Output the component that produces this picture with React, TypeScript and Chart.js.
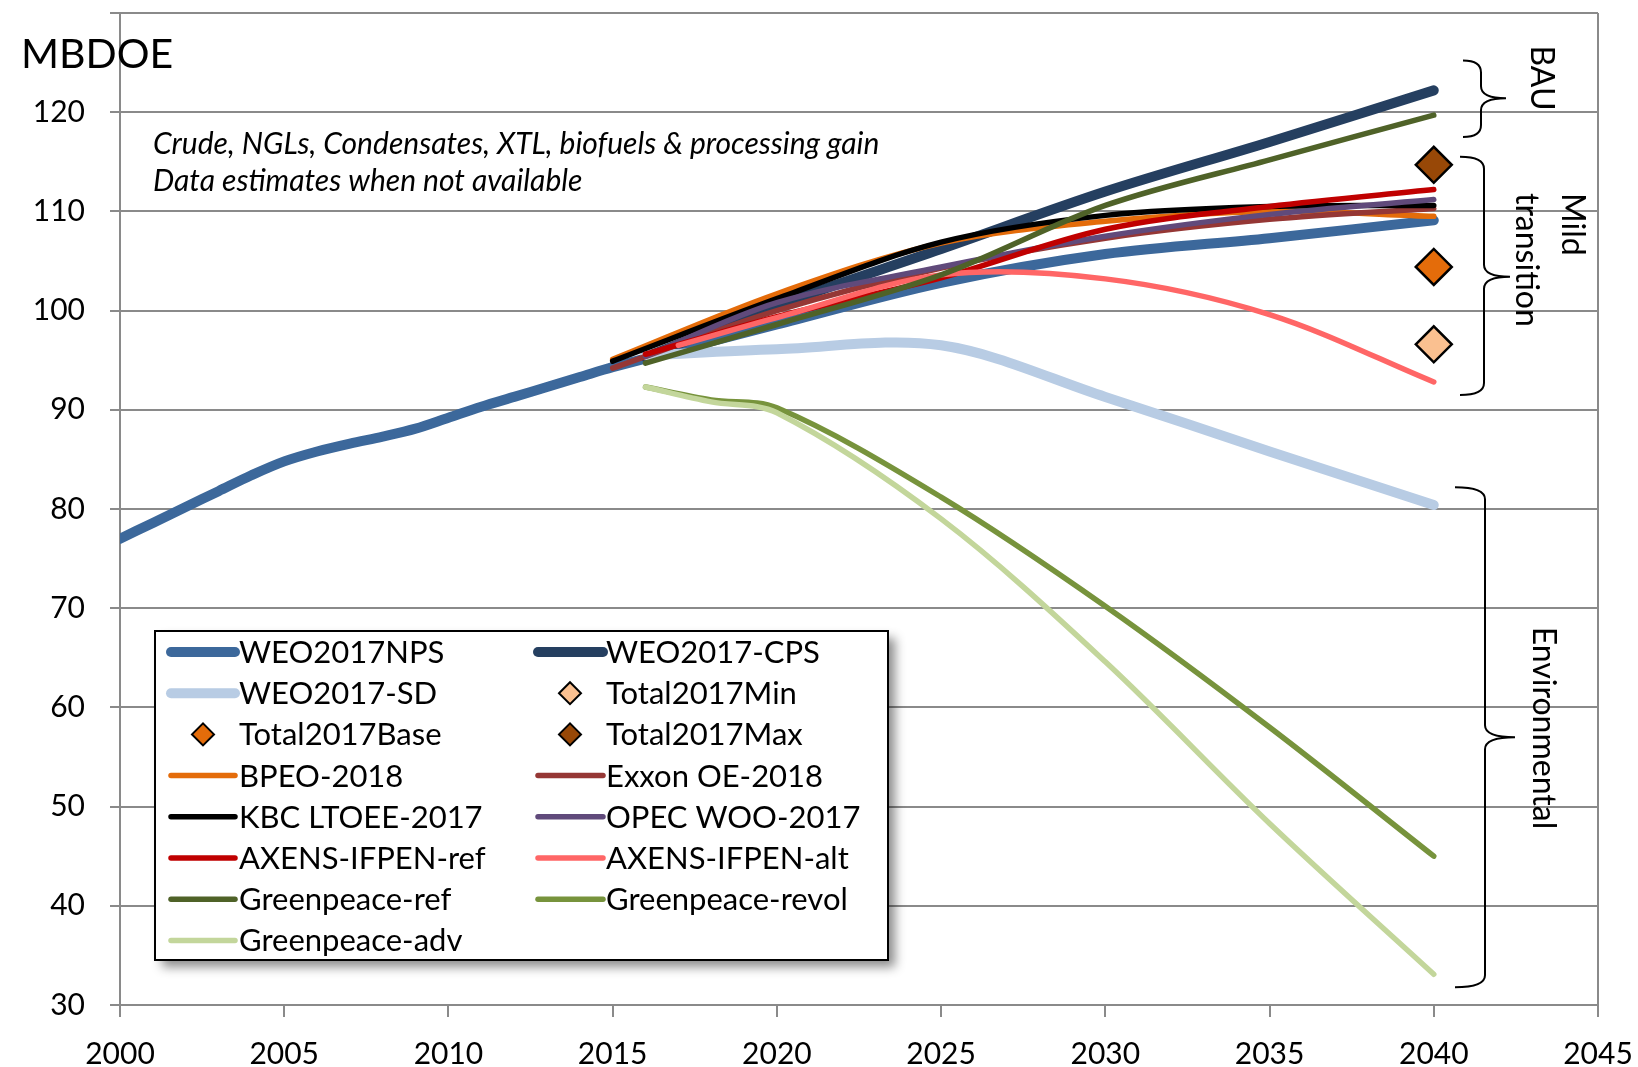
import React, { useEffect, useRef } from 'react';
import { Chart, registerables } from 'chart.js';

Chart.register(...registerables);

const FONT = 'Lato, "Open Sans", "DejaVu Sans", sans-serif';
const GRID = '#8A8A8A';

// ---- axes ----
const X_MIN = 2000;
const X_MAX = 2045;
const X_STEP = 5;
const Y_MIN = 30;
const Y_MAX = 130;
const Y_STEP = 10;
const UNIT_LABEL = 'MBDOE';
const NOTE_LINES = [
  'Crude, NGLs, Condensates, XTL, biofuels & processing gain',
  'Data estimates when not available',
];

// ---- data (MBDOE) ----
const historyYears = [2000, 2001, 2002, 2003, 2004, 2005, 2006, 2007, 2008, 2009, 2010, 2011, 2012, 2013, 2014, 2015];
const npsHistory = [77.0, 78.6, 80.2, 81.8, 83.4, 84.8, 85.8, 86.6, 87.3, 88.1, 89.2, 90.3, 91.3, 92.3, 93.3, 94.3];
const outlookYears = [2020, 2025, 2030, 2035, 2040];
const npsOutlook = [98.6, 102.8, 105.7, 107.3, 109.1];

const years2015 = [2015, 2020, 2025, 2030, 2035, 2040];
const years2016 = [2016, 2020, 2025, 2030, 2035, 2040];
const years2017 = [2017, 2020, 2025, 2030, 2035, 2040];
const greenpeaceYears = [2016, 2018, 2020, 2025, 2030, 2035, 2040];
const totalYears = [2040];

const weoCps = [95.3, 100.5, 106.2, 112.0, 117.0, 122.2];
const weoSd = [95.5, 96.1, 96.5, 91.3, 85.8, 80.4];
const totalMin = [96.6];
const totalBase = [104.4];
const totalMax = [114.7];
const bpeo = [95.1, 101.7, 106.8, 109.0, 110.0, 109.5];
const exxon = [94.2, 100.0, 104.3, 107.3, 109.2, 110.3];
const kbc = [94.9, 101.2, 106.9, 109.6, 110.5, 110.6];
const opec = [95.4, 100.8, 104.4, 107.5, 109.7, 111.2];
const axensRef = [95.6, 99.4, 103.3, 108.2, 110.5, 112.2];
const axensAlt = [96.5, 99.3, 103.6, 103.2, 99.6, 92.8];
const gpRef = [94.7, 98.6, 103.6, 110.6, 115.2, 119.7];
const gpRevol = [92.3, 91.0, 90.2, 81.2, 70.2, 58.0, 45.0];
const gpAdv = [92.3, 90.8, 89.7, 79.0, 64.6, 48.3, 33.1];

const pts = (xs: number[], ys: number[]) => xs.map((x, i) => ({ x, y: ys[i] }));

type Spec = {
  label: string;
  data: { x: number; y: number }[];
  color: string;
  width?: number;
  diamond?: boolean;
};

const series: Spec[] = [
  { label: 'WEO2017NPS', data: pts([...historyYears, ...outlookYears], [...npsHistory, ...npsOutlook]), color: '#3C689B', width: 10 },
  { label: 'WEO2017-CPS', data: pts(years2016, weoCps), color: '#253F60', width: 10 },
  { label: 'WEO2017-SD', data: pts(years2016, weoSd), color: '#B8CCE4', width: 10 },
  { label: 'Total2017Min', data: pts(totalYears, totalMin), color: '#FAC090', diamond: true },
  { label: 'Total2017Base', data: pts(totalYears, totalBase), color: '#E46C0A', diamond: true },
  { label: 'Total2017Max', data: pts(totalYears, totalMax), color: '#984807', diamond: true },
  { label: 'BPEO-2018', data: pts(years2015, bpeo), color: '#E46C0A', width: 5.5 },
  { label: 'Exxon OE-2018', data: pts(years2015, exxon), color: '#953735', width: 5.5 },
  { label: 'KBC LTOEE-2017', data: pts(years2015, kbc), color: '#000000', width: 5.5 },
  { label: 'OPEC WOO-2017', data: pts(years2016, opec), color: '#604A7B', width: 5.5 },
  { label: 'AXENS-IFPEN-ref', data: pts(years2016, axensRef), color: '#C00000', width: 5.5 },
  { label: 'AXENS-IFPEN-alt', data: pts(years2017, axensAlt), color: '#FF6666', width: 5.5 },
  { label: 'Greenpeace-ref', data: pts(years2016, gpRef), color: '#4F6228', width: 5.5 },
  { label: 'Greenpeace-revol', data: pts(greenpeaceYears, gpRevol), color: '#77933C', width: 5.5 },
  { label: 'Greenpeace-adv', data: pts(greenpeaceYears, gpAdv), color: '#C3D69B', width: 5.5 },
];

// ---- annotation layout (pixels / data units) ----
const BRACES = [
  { top: 125.2, mid: 121.4, bot: 117.5, xEnd: 1463, xStem: 1481, xTip: 1506 },
  { top: 115.5, mid: 103.4, bot: 91.5, xEnd: 1460, xStem: 1484, xTip: 1510 },
  { top: 82.2, mid: 57.0, bot: 31.8, xEnd: 1455, xStem: 1485, xTip: 1515 },
];

function drawBrace(ctx: CanvasRenderingContext2D, xEnd: number, xStem: number, xTip: number, yTop: number, yMid: number, yBot: number) {
  const r = 12;
  ctx.beginPath();
  ctx.moveTo(xEnd, yTop);
  ctx.quadraticCurveTo(xStem, yTop, xStem, yTop + r);
  ctx.lineTo(xStem, yMid - r);
  ctx.quadraticCurveTo(xStem, yMid, xTip, yMid);
  ctx.quadraticCurveTo(xStem, yMid, xStem, yMid + r);
  ctx.lineTo(xStem, yBot - r);
  ctx.quadraticCurveTo(xStem, yBot, xEnd, yBot);
  ctx.stroke();
}

function diamond(ctx: CanvasRenderingContext2D, cx: number, cy: number, r: number, fill: string) {
  ctx.beginPath();
  ctx.moveTo(cx - r, cy);
  ctx.lineTo(cx, cy - r);
  ctx.lineTo(cx + r, cy);
  ctx.lineTo(cx, cy + r);
  ctx.closePath();
  ctx.fillStyle = fill;
  ctx.fill();
  ctx.lineWidth = 2;
  ctx.strokeStyle = '#000';
  ctx.stroke();
}

const annotations = {
  id: 'annotations',
  afterDraw(chart: any) {
    const ctx: CanvasRenderingContext2D = chart.ctx;
    const ys = chart.scales.y;
    ctx.save();
    ctx.fillStyle = '#000';
    ctx.textAlign = 'left';
    ctx.textBaseline = 'alphabetic';
    ctx.font = `41px ${FONT}`;
    ctx.fillText(UNIT_LABEL, 21, 68);
    ctx.font = `italic 30px ${FONT}`;
    NOTE_LINES.forEach((t, i) => ctx.fillText(t, 153, 154 + i * 37));

    // braces
    ctx.strokeStyle = '#000';
    ctx.lineWidth = 2;
    BRACES.forEach((b) =>
      drawBrace(ctx, b.xEnd, b.xStem, b.xTip, ys.getPixelForValue(b.top), ys.getPixelForValue(b.mid), ys.getPixelForValue(b.bot))
    );

    // rotated scenario labels
    ctx.font = `32px ${FONT}`;
    ctx.fillStyle = '#000';
    const rot = (text: string, x: number, y: number, align: CanvasTextAlign) => {
      ctx.save();
      ctx.translate(x, y);
      ctx.rotate(Math.PI / 2);
      ctx.textAlign = align;
      ctx.textBaseline = 'middle';
      ctx.fillText(text, 0, 0);
      ctx.restore();
    };
    rot('BAU', 1541, 78, 'center');
    rot('Mild', 1572, 193, 'left');
    rot('transition', 1526, 193, 'left');
    rot('Environmental', 1543, 728, 'center');

    // legend box
    const bx = 155, by = 631, bw = 733, bh = 329;
    ctx.save();
    ctx.shadowColor = 'rgba(0,0,0,0.45)';
    ctx.shadowBlur = 10;
    ctx.shadowOffsetX = 7;
    ctx.shadowOffsetY = 7;
    ctx.fillStyle = '#fff';
    ctx.fillRect(bx, by, bw, bh);
    ctx.restore();
    ctx.lineWidth = 2;
    ctx.strokeStyle = '#000';
    ctx.strokeRect(bx, by, bw, bh);

    const colX = [{ l1: 171, l2: 235, d: 203, t: 239 }, { l1: 538, l2: 603, d: 570, t: 606 }];
    chart.data.datasets.forEach((ds: any, i: number) => {
      const c = colX[i % 2];
      const cy = 652 + Math.floor(i / 2) * 41.2;
      if (ds.isDiamond) {
        diamond(ctx, c.d, cy, 11, ds.pointBackgroundColor);
      } else {
        ctx.beginPath();
        ctx.lineCap = 'round';
        ctx.strokeStyle = ds.borderColor;
        ctx.lineWidth = ds.borderWidth;
        ctx.moveTo(c.l1, cy);
        ctx.lineTo(c.l2, cy);
        ctx.stroke();
      }
      ctx.fillStyle = '#000';
      ctx.font = `31px ${FONT}`;
      ctx.textAlign = 'left';
      ctx.textBaseline = 'middle';
      ctx.fillText(ds.label, c.t, cy + 1);
    });
    ctx.restore();
  },
};

export default function App() {
  const ref = useRef<HTMLCanvasElement>(null);
  useEffect(() => {
    const datasets = series.map((s, i) =>
      s.diamond
        ? {
            label: s.label,
            data: s.data,
            isDiamond: true,
            showLine: false,
            pointStyle: 'rectRot',
            pointRadius: 18,
            pointHoverRadius: 18,
            pointBackgroundColor: s.color,
            pointBorderColor: '#000',
            pointBorderWidth: 2.5,
            backgroundColor: s.color,
            borderColor: '#000',
            order: -i,
          }
        : {
            label: s.label,
            data: s.data,
            borderColor: s.color,
            backgroundColor: s.color,
            borderWidth: s.width,
            pointRadius: 0,
            pointHoverRadius: 0,
            tension: 0.33,
            borderCapStyle: 'round',
            borderJoinStyle: 'round',
            fill: false,
            order: -i,
          }
    );
    const chart = new Chart(ref.current!, {
      type: 'line',
      data: { datasets } as any,
      options: {
        animation: false,
        responsive: false,
        events: [],
        layout: { autoPadding: false, padding: { top: 13, right: 40, bottom: 0, left: 0 } },
        plugins: { legend: { display: false }, tooltip: { enabled: false } },
        scales: {
          x: {
            type: 'linear',
            min: X_MIN,
            max: X_MAX,
            afterFit: (s: any) => {
              s.height = 62;
              s.paddingLeft = 0;
              s.paddingRight = 0;
            },
            ticks: {
              stepSize: X_STEP,
              autoSkip: false,
              maxRotation: 0,
              padding: 19,
              color: '#000',
              font: { family: FONT, size: 30 },
              callback: (v: any) => String(v),
            },
            grid: {
              color: (c: any) => (c.tick && c.tick.value === X_MAX ? GRID : 'rgba(0,0,0,0)'),
              tickColor: GRID,
              lineWidth: 2,
              tickLength: 12,
            },
            border: { display: true, color: GRID, width: 2 },
          },
          y: {
            type: 'linear',
            min: Y_MIN,
            max: Y_MAX,
            afterFit: (s: any) => {
              s.width = 120;
              s.paddingTop = 0;
              s.paddingBottom = 0;
            },
            ticks: {
              stepSize: Y_STEP,
              padding: 25,
              color: '#000',
              font: { family: FONT, size: 30 },
              callback: (v: any) => (v === Y_MAX ? '' : String(v)),
            },
            grid: { color: GRID, lineWidth: 2, tickLength: 10 },
            border: { display: true, color: GRID, width: 2 },
          },
        },
      },
      plugins: [annotations],
    } as any);
    return () => chart.destroy();
  }, []);
  return (
    <div style={{ position: 'fixed', left: 0, top: 0, width: 1638, height: 1067, background: '#fff' }}>
      <canvas ref={ref} width={1638} height={1067} style={{ display: 'block' }} />
    </div>
  );
}
